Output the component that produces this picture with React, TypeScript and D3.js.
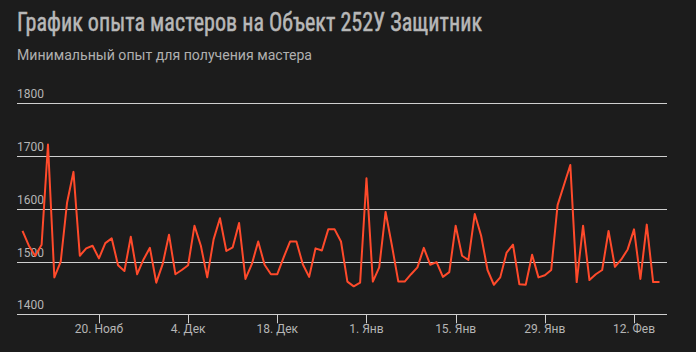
import React, { useEffect, useRef } from 'react';
import * as d3 from 'd3';

// Chart texts
const title = 'График опыта мастеров на Объект 252У Защитник';
const subtitle = 'Минимальный опыт для получения мастера';

// Daily values starting Nov 8
const startDate = new Date(2022, 10, 8);
const masterXp = [
  1558, 1530, 1511, 1532, 1722, 1470, 1500, 1612, 1670, 1511,
  1525, 1530, 1506, 1535, 1544, 1493, 1482, 1547, 1476, 1504,
  1526, 1460, 1495, 1551, 1476, 1484, 1493, 1568, 1530, 1470,
  1542, 1582, 1520, 1527, 1573, 1467, 1495, 1538, 1494, 1476,
  1476, 1508, 1538, 1538, 1495, 1471, 1525, 1521, 1561, 1561,
  1538, 1462, 1453, 1460, 1658, 1462, 1489, 1594, 1530, 1462,
  1462, 1476, 1489, 1526, 1494, 1499, 1471, 1480, 1568, 1511,
  1503, 1590, 1549, 1484, 1456, 1470, 1517, 1532, 1457, 1456,
  1513, 1470, 1474, 1484, 1607, 1645, 1683, 1461, 1568, 1465,
  1476, 1484, 1558, 1490, 1504, 1523, 1561, 1467, 1570, 1461,
  1461,
];

const yTicks = [1400, 1500, 1600, 1700, 1800];
const xTickDates = [
  new Date(2022, 10, 20),
  new Date(2022, 11, 4),
  new Date(2022, 11, 18),
  new Date(2023, 0, 1),
  new Date(2023, 0, 15),
  new Date(2023, 0, 29),
  new Date(2023, 1, 12),
];
const xTickLabels = ['20. Нояб', '4. Дек', '18. Дек', '1. Янв', '15. Янв', '29. Янв', '12. Фев'];

function App() {
  const svgRef = useRef<SVGSVGElement>(null);

  useEffect(() => {
    document.body.style.margin = '0';
    document.body.style.background = '#1c1c1c';

    const width = 696;
    const height = 352;
    const svg = d3.select(svgRef.current)
      .attr('width', width)
      .attr('height', height);
    svg.selectAll('*').remove();

    svg.append('rect')
      .attr('width', width)
      .attr('height', height)
      .attr('fill', '#1c1c1c');

    const data = masterXp.map((v, i) => ({ date: d3.timeDay.offset(startDate, i), value: v }));

    const plotLeft = 17;
    const plotRight = 667;

    const x = d3.scaleTime()
      .domain([data[0].date, data[data.length - 1].date])
      .range([22.5, 659.5]);

    const y = d3.scaleLinear()
      .domain([1400, 1800])
      .range([314.3, 103.3]);

    // Title
    svg.append('text')
      .attr('x', plotLeft)
      .attr('y', 31)
      .attr('fill', '#b8b8b8')
      .attr('stroke', '#b8b8b8')
      .attr('stroke-width', 0.5)
      .attr('font-family', '"Roboto Condensed", "Liberation Sans Narrow", "DejaVu Sans Condensed", sans-serif')
      .attr('font-size', 26)
      .attr('textLength', 465)
      .attr('lengthAdjust', 'spacingAndGlyphs')
      .text(title);

    svg.append('text')
      .attr('x', plotLeft)
      .attr('y', 59.5)
      .attr('fill', '#b0b0b0')
      .attr('font-family', 'Roboto, sans-serif')
      .attr('font-size', 14)
      .attr('textLength', 295)
      .attr('lengthAdjust', 'spacingAndGlyphs')
      .text(subtitle);

    // Grid lines + y labels
    const grid = svg.append('g');
    grid.selectAll('line')
      .data(yTicks)
      .enter()
      .append('line')
      .attr('x1', plotLeft)
      .attr('x2', plotRight)
      .attr('y1', d => Math.round(y(d)) + 0.5)
      .attr('y2', d => Math.round(y(d)) + 0.5)
      .attr('stroke', '#cfcfcf')
      .attr('stroke-width', 1);

    grid.selectAll('text')
      .data(yTicks)
      .enter()
      .append('text')
      .attr('x', plotLeft)
      .attr('y', d => y(d) - 5)
      .attr('fill', '#b5b5b5')
      .attr('font-family', 'Roboto, sans-serif')
      .attr('font-size', 12)
      .text(d => d);

    // X axis ticks
    const xAxis = svg.append('g');
    xAxis.selectAll('line')
      .data(xTickDates)
      .enter()
      .append('line')
      .attr('x1', d => Math.round(x(d)) + 0.5)
      .attr('x2', d => Math.round(x(d)) + 0.5)
      .attr('y1', y(1400))
      .attr('y2', y(1400) + 9)
      .attr('stroke', '#cfcfcf');

    xAxis.selectAll('text')
      .data(xTickDates)
      .enter()
      .append('text')
      .attr('x', d => x(d))
      .attr('y', 333)
      .attr('text-anchor', 'middle')
      .attr('fill', '#b5b5b5')
      .attr('font-family', 'Roboto, sans-serif')
      .attr('font-size', 12)
      .text((d, i) => xTickLabels[i]);

    // Line
    const line = d3.line<{ date: Date; value: number }>()
      .x(d => x(d.date))
      .y(d => y(d.value));

    svg.append('path')
      .datum(data)
      .attr('d', line)
      .attr('fill', 'none')
      .attr('stroke', '#ff4a2b')
      .attr('stroke-width', 2)
      .attr('stroke-linejoin', 'round');
  }, []);

  return <svg ref={svgRef} style={{ display: 'block' }}></svg>;
}

export default App;
